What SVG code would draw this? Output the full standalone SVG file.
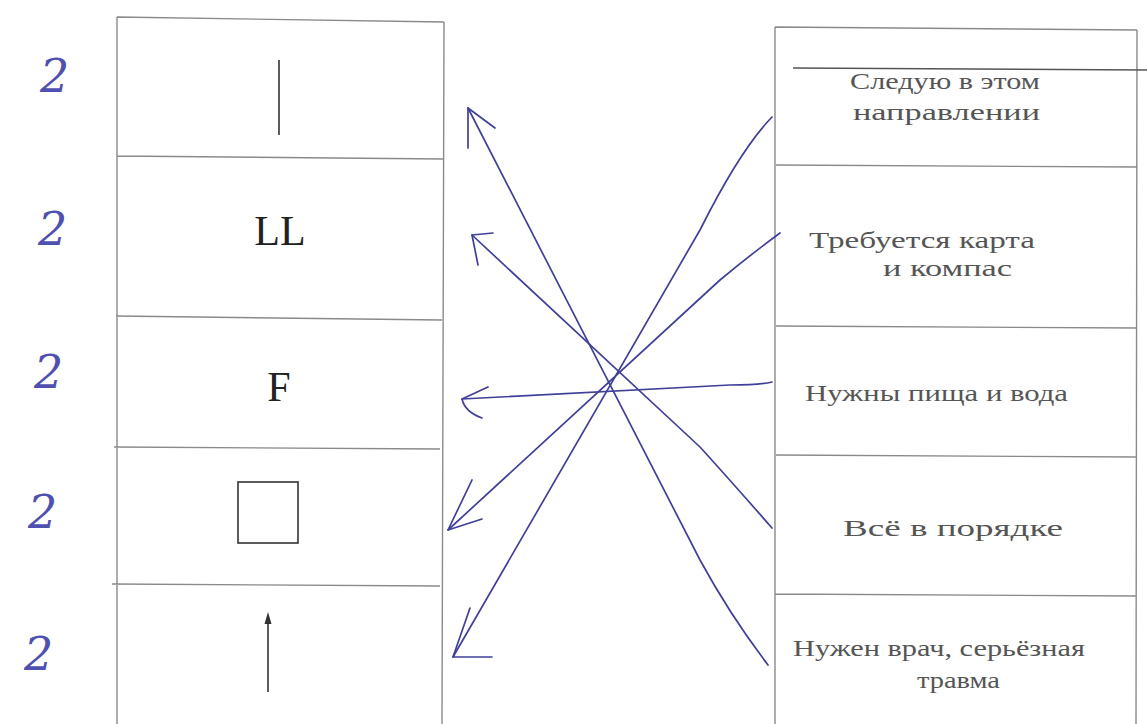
<svg xmlns="http://www.w3.org/2000/svg" width="1147" height="724" viewBox="0 0 1147 724">
<style>
.grid{stroke:#8a8a8a;stroke-width:1.4;fill:none}
.sym{stroke:#333;stroke-width:1.6;fill:none}
.sig{font-family:"Liberation Serif",serif;fill:#222;text-anchor:middle}
.lab{font-family:"Liberation Serif",serif;font-size:23px;fill:#555}
.mark{font-family:"DejaVu Serif",serif;font-style:italic;font-size:46px;fill:#5050b0}
.pen{stroke:#40409a;stroke-width:1.7;fill:none;stroke-linecap:round;stroke-linejoin:round}
</style>
<rect width="1147" height="724" fill="#fff"/>
<g id="marks">
<text class="mark" x="40" y="92">2</text>
<text class="mark" x="38" y="245">2</text>
<text class="mark" x="34" y="388">2</text>
<text class="mark" x="28" y="528">2</text>
<text class="mark" x="24" y="670">2</text>
</g>
<g id="left-table">
<path class="grid" d="M117,17 L444,22 M117,17 L117,724 M444,22 L442,724 M117,156 L444,159 M116,316 L442,320 M114,447 L440,449 M112,584 L440,586"/>
</g>
<g id="sign1"><line class="sym" x1="279" y1="60" x2="279" y2="135"/></g>
<g id="sign2"><text class="sig" x="280" y="245" font-size="42">LL</text></g>
<g id="sign3"><text class="sig" x="279" y="401" font-size="42">F</text></g>
<g id="sign4"><rect class="sym" x="238" y="482" width="60" height="61"/></g>
<g id="sign5"><line class="sym" x1="268" y1="692" x2="268" y2="622"/><path d="M264.5,624 L268,612 L271.5,624 Z" fill="#333"/></g>
<g id="right-table">
<path class="grid" d="M775,27 L1137,30 M775,27 L775,724 M1137,30 L1136,724 M776,165 L1137,167 M776,326 L1137,328 M776,455 L1137,457 M775,594 L1136,596"/>
<line x1="793" y1="68" x2="1147" y2="70" stroke="#555" stroke-width="1.6"/>
</g>
<g id="r1"><text class="lab" x="850" y="89" textLength="190" lengthAdjust="spacingAndGlyphs">Следую в этом</text><text class="lab" x="853" y="120" textLength="187" lengthAdjust="spacingAndGlyphs">направлении</text></g>
<g id="r2"><text class="lab" x="809" y="248" textLength="226" lengthAdjust="spacingAndGlyphs">Требуется карта</text><text class="lab" x="883" y="276" textLength="129" lengthAdjust="spacingAndGlyphs">и компас</text></g>
<g id="r3"><text class="lab" x="805" y="401" textLength="263" lengthAdjust="spacingAndGlyphs">Нужны пища и вода</text></g>
<g id="r4"><text class="lab" x="843" y="536" textLength="220" lengthAdjust="spacingAndGlyphs">Всё в порядке</text></g>
<g id="r5"><text class="lab" x="793" y="656" textLength="292" lengthAdjust="spacingAndGlyphs">Нужен врач, серьёзная</text><text class="lab" x="917" y="688" textLength="83" lengthAdjust="spacingAndGlyphs">травма</text></g>
<g id="connectors">
<path class="pen" d="M772,117 Q740,150 700,230 L453,657"/>
<path class="pen" d="M470,608 L453,657 L492,657"/>
<path class="pen" d="M780,233 Q750,255 720,280 L448,530"/>
<path class="pen" d="M472,480 L448,530 L482,519"/>
<path class="pen" d="M772,382 Q760,385 730,385 L462,399"/>
<path class="pen" d="M488,387 L462,399 Q465,412 482,418"/>
<path class="pen" d="M772,528 Q730,480 700,447 L472,235"/>
<path class="pen" d="M493,233 L472,235 L478,265"/>
<path class="pen" d="M768,665 Q730,615 700,560 L468,108"/>
<path class="pen" d="M495,128 L468,108 L468,148"/>
</g>
</svg>
